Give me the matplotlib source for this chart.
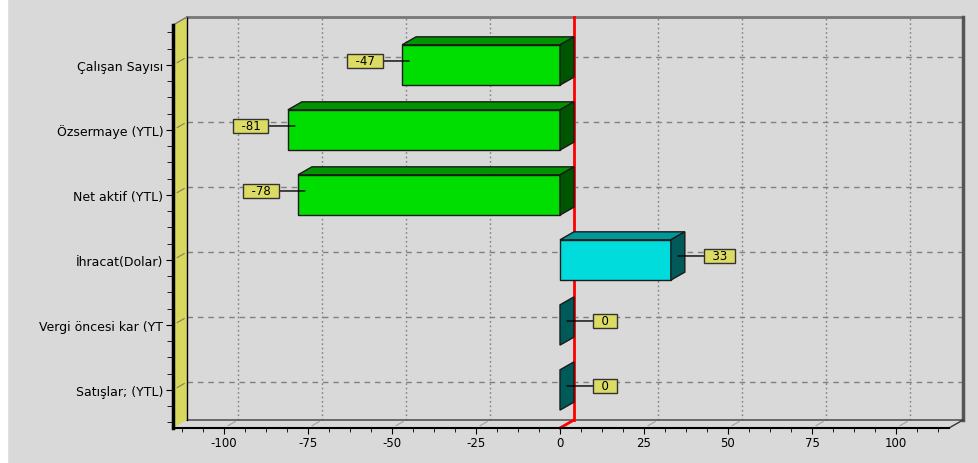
import matplotlib.pyplot as plt
from matplotlib.patches import Polygon, Rectangle
from matplotlib.ticker import MultipleLocator

## Data
categories = ['Satışlar; (YTL)', 'Vergi öncesi kar (YT', 'İhracat(Dolar)',
              'Net aktif (YTL)', 'Özsermaye (YTL)', 'Çalışan Sayısı']
values = [0, 0, 33, -78, -81, -47]
x_ticks = [-100, -75, -50, -25, 0, 25, 50, 75, 100]

## Style
BG = '#d9d9d9'
WALL = '#d8d860'
LABEL_BOX = '#dcdc64'
GRID = '#808080'
DEPTH_PX = (14, 8)   # back wall offset behind the front plane (pixels)
HALF = 0.31          # half bar thickness, in category units
NEG = ('#00dd00', '#009500', '#005500')   # front, top, side
POS = ('#00dcdc', '#009898', '#005a5a')

plt.rcParams['font.family'] = ['DejaVu Sans']
plt.rcParams['axes.unicode_minus'] = False

fig = plt.figure(figsize=(9.79, 4.64), dpi=100, facecolor=BG)
fig.patches.append(Rectangle((0, 0), 7 / 979, 1, transform=fig.transFigure,
                             color='white', zorder=0))
ax = fig.add_axes([173 / 979, 35 / 464, 776 / 979, 403 / 464])
ax.set_facecolor('none')
ax.set_xlim(-115.2, 115.8)
ax.set_ylim(-0.585, 5.615)
x0, x1 = ax.get_xlim()
y0, y1 = ax.get_ylim()

# depth offset in data units
p0 = ax.transData.transform((0, 0))
p1 = ax.transData.transform((1, 1))
ddx = DEPTH_PX[0] / (p1[0] - p0[0])
ddy = DEPTH_PX[1] / (p1[1] - p0[1])

kw = dict(clip_on=False)

# back wall grid
for t in x_ticks:
    ax.plot([t + ddx] * 2, [y0 + ddy, y1 + ddy], color=GRID, lw=1,
            ls=(0, (1.2, 2)), zorder=1, **kw)
    ax.plot([t + ddx * 0.3, t + ddx * 0.8], [y0 + ddy * 0.3, y0 + ddy * 0.8],
            color='#a0a0a0', lw=0.8, zorder=1, **kw)
for i in range(len(categories)):
    ax.plot([x0 + ddx, x1 + ddx], [i + ddy] * 2, color=GRID, lw=1,
            ls=(0, (4, 3.5)), zorder=1, **kw)
    ax.plot([x0 + ddx * 0.3, x0 + ddx * 0.8], [i + ddy * 0.3, i + ddy * 0.8],
            color='#808060', lw=0.8, zorder=3, **kw)

# back wall frame and floor
ax.plot([x0 + ddx, x1 + ddx], [y1 + ddy] * 2, color='#777777', lw=2, zorder=2, **kw)
ax.plot([x1 + ddx] * 2, [y0 + ddy, y1 + ddy], color='#555555', lw=2.5, zorder=2, **kw)
ax.plot([x0 + ddx, x1 + ddx], [y0 + ddy] * 2, color='#555555', lw=1.2, zorder=2, **kw)
ax.plot([x1, x1 + ddx], [y0, y0 + ddy], color='#333333', lw=1, zorder=2, **kw)

# left wall
ax.add_patch(Polygon([(x0, y0), (x0, y1), (x0 + ddx, y1 + ddy), (x0 + ddx, y0 + ddy)],
                     closed=True, fc=WALL, ec='none', zorder=2, **kw))
ax.plot([x0 + ddx] * 2, [y0 + ddy, y1 + ddy], color='black', lw=1, zorder=3, **kw)
ax.plot([x0, x0 + ddx], [y1, y1 + ddy], color='#777777', lw=1, zorder=3, **kw)
ax.plot([x0, x0], [y0, y1], color='black', lw=2.5, zorder=4, **kw)

# zero line
ax.plot([ddx, ddx], [y0 + ddy, y1 + ddy], color='red', lw=2, zorder=4, **kw)
ax.plot([0, ddx], [y0, y0 + ddy], color='red', lw=2, zorder=4, **kw)

# bars
for i, v in enumerate(values):
    front, top, side = NEG if v < 0 else POS
    a, b = min(0, v), max(0, v)
    if b > a:
        ax.add_patch(Polygon([(a, i + HALF), (b, i + HALF), (b + ddx, i + HALF + ddy),
                              (a + ddx, i + HALF + ddy)], closed=True, fc=top,
                             ec='#1a1a1a', lw=1, zorder=5, **kw))
        ax.add_patch(Rectangle((a, i - HALF), b - a, 2 * HALF, fc=front,
                               ec='#1a1a1a', lw=1, zorder=5, **kw))
    ax.add_patch(Polygon([(b, i - HALF), (b, i + HALF), (b + ddx, i + HALF + ddy),
                          (b + ddx, i - HALF + ddy)], closed=True, fc=side,
                         ec='#1a1a1a', lw=1, zorder=5, **kw))

    # value labels
    sign = -1 if v < 0 else 1
    end = a if v < 0 else b
    ax.annotate('  %d  ' % v, xy=(end + ddx / 2, i + ddy / 2),
                xytext=(sign * 27, 0), textcoords='offset pixels',
                ha='right' if v < 0 else 'left', va='center', fontsize=8.5,
                bbox=dict(boxstyle='square,pad=0.05', fc=LABEL_BOX, ec='#333333', lw=1),
                arrowprops=dict(arrowstyle='-', color='black', lw=1,
                                shrinkA=0, shrinkB=0),
                zorder=6, annotation_clip=False)

# axes and ticks
for s in ['top', 'right', 'left']:
    ax.spines[s].set_visible(False)
ax.spines['bottom'].set_color('black')
ax.spines['bottom'].set_linewidth(1.5)
ax.spines['bottom'].set_zorder(4)

ax.set_xticks(x_ticks)
ax.xaxis.set_minor_locator(MultipleLocator(6.25))
ax.set_yticks(range(len(categories)), categories)
ax.yaxis.set_minor_locator(MultipleLocator(0.25))
ax.tick_params(axis='x', which='major', length=4, pad=2, labelsize=8.5, color='black')
ax.tick_params(axis='x', which='minor', length=3, color='black')
ax.tick_params(axis='y', which='major', length=5, pad=2, labelsize=9, color='black')
ax.tick_params(axis='y', which='minor', length=4, color='black')

fig.savefig('out.png', dpi=100, facecolor=BG)
